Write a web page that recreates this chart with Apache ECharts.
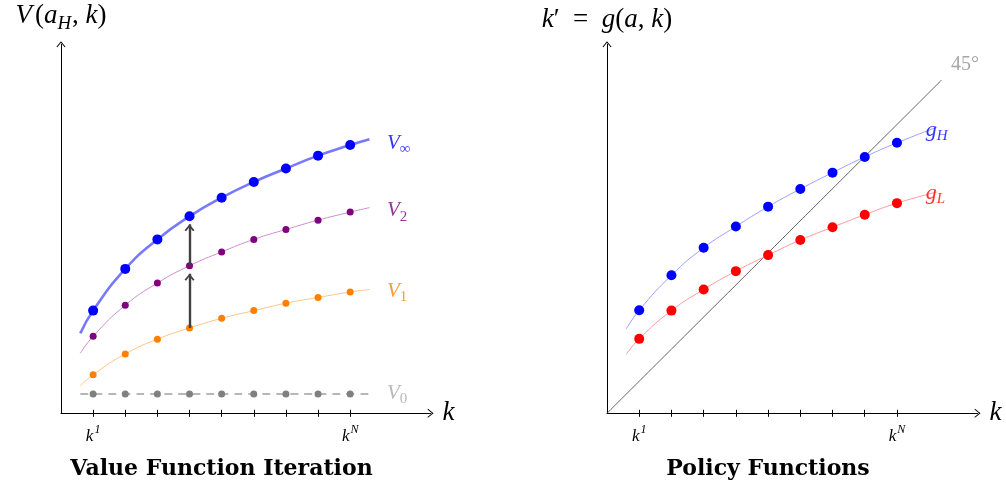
<!DOCTYPE html>
<html>
<head>
<meta charset="utf-8">
<script src="https://cdn.jsdelivr.net/npm/echarts@6/dist/echarts.min.js"></script>
<style>
  html, body { margin: 0; padding: 0; background: #fff; }
  #chart { width: 1006px; height: 486px; }
</style>
</head>
<body>
<div id="chart"></div>
<script>
// Capital grid k^1 ... k^N
const kGrid = [1, 2, 3, 4, 5, 6, 7, 8, 9];
const kLabelPos = [1, 9];
const kTickLabels = ['1', 'N'];
// Curves run slightly past the grid on both sides
const kStart = 0.6;
const kEndLeft = 9.6;
const kEndRight = 10.25;

// Value function iterates at the grid points, with curve end values
const vInf = [3.20, 4.50, 5.42, 6.14, 6.72, 7.21, 7.63, 8.03, 8.36];
const vInfEnds = [2.49, 8.54];
const v2 = [2.40, 3.37, 4.06, 4.60, 5.03, 5.42, 5.73, 6.02, 6.27];
const v2Ends = [1.87, 6.41];
const v1 = [1.20, 1.85, 2.31, 2.66, 2.96, 3.20, 3.43, 3.61, 3.78];
const v1Ends = [0.85, 3.86];
const v0 = [0.60, 0.60, 0.60, 0.60, 0.60, 0.60, 0.60, 0.60, 0.60];
const v0Ends = [0.60, 0.60];

// Policy functions for high and low productivity
const gH = [3.21, 4.30, 5.16, 5.82, 6.44, 6.99, 7.50, 7.99, 8.43];
const gHEnds = [2.63, 8.92];
const gL = [2.32, 3.20, 3.86, 4.43, 4.93, 5.40, 5.80, 6.19, 6.55];
const gLEnds = [1.84, 6.90];
// 45 degree line end
const diagEnd = 10.38;

// Grid point where the iteration arrows are drawn
const arrowIdx = 3;

const AXIS_MAX = 11.5;
const MATH = "'Liberation Serif', serif";
const BOLD = "'DejaVu Serif', serif";

const BLUE = '#0000ff', PURPLE = '#800080', ORANGE = '#ff8000', GRAY = '#808080', RED = '#ff0000';

function rich(color, size) {
  const s = Math.round(size * 0.7);
  return {
    i: { fontFamily: MATH, fontStyle: 'italic', fontSize: size, color: color },
    iv: { fontFamily: MATH, fontStyle: 'italic', fontSize: size, color: color, padding: [0, 3, 0, 0] },
    n: { fontFamily: MATH, fontSize: size, color: color },
    sub: { fontFamily: MATH, fontStyle: 'italic', fontSize: s, color: color, padding: [Math.round(size * 0.55), 1, 0, 0] },
    subn: { fontFamily: MATH, fontSize: s, color: color, padding: [Math.round(size * 0.55), 0, 0, 0] }
  };
}

function curve(vals, ends, kEnd) {
  return [[kStart, ends[0]]].concat(kGrid.map((k, i) => [k, vals[i]]), [[kEnd, ends[1]]]);
}
function points(vals) {
  return kGrid.map((k, i) => [k, vals[i]]);
}

const axisArrow = 'path://M0,5.6 L4.5,0 L9,5.6 L8.2,6.1 L4.5,1.5 L0.8,6.1 Z';
const iterArrow = 'path://M0,6 L5,0 L10,6 L8.5,7 L5,2.6 L1.5,7 Z';
const arrowGap = 0.25;

function xAxes(gridIndex) {
  return [
    {
      gridIndex: gridIndex, type: 'value', min: 0, max: AXIS_MAX, position: 'bottom',
      axisLine: { show: true, onZero: false, lineStyle: { color: '#000', width: 1 },
        symbol: ['none', axisArrow], symbolSize: [9, 6.1] },
      axisTick: { show: true, length: 3.5, customValues: kGrid, lineStyle: { color: '#000', width: 1 } },
      axisLabel: {
        show: true, customValues: kLabelPos, margin: 11,
        formatter: v => '{k|k}{s|' + kTickLabels[kLabelPos.indexOf(v)] + '}',
        rich: {
          k: { fontFamily: MATH, fontStyle: 'italic', fontSize: 17, color: '#000' },
          s: { fontFamily: MATH, fontStyle: 'italic', fontSize: 12, color: '#000', padding: [0, 0, 12, 1] }
        }
      },
      splitLine: { show: false },
      name: '{i|k}', nameLocation: 'end', nameGap: 12,
      nameTextStyle: { rich: rich('#000', 27) }
    },
    {
      gridIndex: gridIndex, type: 'value', min: 0, max: AXIS_MAX, position: 'bottom',
      axisLine: { show: false },
      axisTick: { show: true, inside: true, length: 3.5, customValues: kGrid, lineStyle: { color: '#000', width: 1 } },
      axisLabel: { show: false },
      splitLine: { show: false }
    }
  ];
}

function yAxis(gridIndex, name) {
  return {
    gridIndex: gridIndex, type: 'value', min: 0, max: AXIS_MAX,
    axisLine: { show: true, onZero: false, lineStyle: { color: '#000', width: 1 },
      symbol: ['none', axisArrow], symbolSize: [9, 6.1] },
    axisTick: { show: false }, axisLabel: { show: false }, splitLine: { show: false },
    name: name, nameLocation: 'end', nameGap: 11,
    nameTextStyle: { align: 'center', rich: rich('#000', 27) }
  };
}

function lineSeries(x, y, data, color, width, dash, z) {
  return {
    type: 'line', xAxisIndex: x, yAxisIndex: y, data: data, smooth: 0.5,
    showSymbol: false, symbol: 'none', silent: true, z: z || 2,
    lineStyle: { color: color, width: width, type: dash || 'solid' }
  };
}
function dotSeries(x, y, data, color, size) {
  return {
    type: 'scatter', xAxisIndex: x, yAxisIndex: y, data: data, symbol: 'circle',
    symbolSize: size, itemStyle: { color: color, opacity: 1 }, silent: true, z: 4
  };
}
function labelSeries(x, y, items) {
  return {
    type: 'scatter', xAxisIndex: x, yAxisIndex: y, symbolSize: 1, silent: true, z: 5,
    itemStyle: { color: 'rgba(0,0,0,0)' },
    data: items.map(it => ({
      value: it.value,
      label: {
        show: true, position: 'right', distance: it.distance, offset: it.offset,
        formatter: it.text, rich: rich(it.color, it.size)
      }
    }))
  };
}

const chart = echarts.init(document.getElementById('chart'), null, { renderer: 'canvas' });

const iterV1 = lineSeries(0, 0, curve(v1, v1Ends, kEndLeft), '#ffc58a', 1);
iterV1.markLine = {
  silent: true, animation: false,
  symbol: ['none', iterArrow], symbolSize: [10, 7], symbolOffset: [[0, 0], [0, 3.5]],
  lineStyle: { color: '#404040', width: 2.4, type: 'solid' },
  label: { show: false },
  data: [
    [{ coord: [kGrid[arrowIdx], v1[arrowIdx]] }, { coord: [kGrid[arrowIdx], v2[arrowIdx] - arrowGap] }],
    [{ coord: [kGrid[arrowIdx], v2[arrowIdx]] }, { coord: [kGrid[arrowIdx], vInf[arrowIdx] - arrowGap] }]
  ]
};

chart.setOption({
  animation: false,
  backgroundColor: '#fff',
  grid: [
    { left: 61, top: 44.3, width: 369.5, height: 369 },
    { left: 607, top: 44.3, width: 370.5, height: 369 }
  ],
  xAxis: xAxes(0).concat(xAxes(1)),
  yAxis: [
    yAxis(0, '{iv|V}{n|(}{i|a}{sub|H}{n|, }{i|k}{n|)}'),
    yAxis(1, '{i|k}{n|′  =  }{i|g}{n|(}{i|a}{n|, }{i|k}{n|)}')
  ],
  series: [
    // value function iteration
    lineSeries(0, 0, curve(v0, v0Ends, kEndLeft), '#a0a0a0', 1.5, [8, 6]),
    dotSeries(0, 0, points(v0), GRAY, 7),
    iterV1,
    dotSeries(0, 0, points(v1), ORANGE, 7),
    lineSeries(0, 0, curve(v2, v2Ends, kEndLeft), '#cc90cc', 1),
    dotSeries(0, 0, points(v2), PURPLE, 7),
    lineSeries(0, 0, curve(vInf, vInfEnds, kEndLeft), '#7878ff', 2.6),
    dotSeries(0, 0, points(vInf), BLUE, 10),
    labelSeries(0, 0, [
      { value: [kEndLeft, vInfEnds[1]], text: '{i|V}{subn|∞}', color: BLUE, size: 21, distance: 17, offset: [0, 4] },
      { value: [kEndLeft, v2Ends[1]], text: '{i|V}{subn|2}', color: PURPLE, size: 21, distance: 17, offset: [0, 3] },
      { value: [kEndLeft, v1Ends[1]], text: '{i|V}{subn|1}', color: ORANGE, size: 21, distance: 17, offset: [0, 2] },
      { value: [kEndLeft, v0Ends[1]], text: '{i|V}{subn|0}', color: '#a8a8a8', size: 21, distance: 17, offset: [0, -1] }
    ]),
    // policy functions
    lineSeries(2, 1, [[0, 0], [diagEnd, diagEnd]], '#555555', 0.9, 'solid', 1),
    lineSeries(2, 1, curve(gH, gHEnds, kEndRight), '#a0a0ff', 1),
    dotSeries(2, 1, points(gH), BLUE, 10),
    lineSeries(2, 1, curve(gL, gLEnds, kEndRight), '#ff9c9c', 1),
    dotSeries(2, 1, points(gL), RED, 10),
    labelSeries(2, 1, [
      { value: [diagEnd, diagEnd], text: '{n|45°}', color: '#909090', size: 20, distance: 9, offset: [0, -15] },
      { value: [kEndRight, gHEnds[1]], text: '{i|g}{sub|H}', color: BLUE, size: 22, distance: 0, offset: [-12, 3] },
      { value: [kEndRight, gLEnds[1]], text: '{i|g}{sub|L}', color: RED, size: 22, distance: 0, offset: [-12, 1] }
    ])
  ],
  graphic: [
    { type: 'text', x: 221.5, y: 469, silent: true,
      style: { text: 'Value Function Iteration', fontFamily: BOLD, fontWeight: 'bold', fontSize: 22,
        fill: '#000', align: 'center', verticalAlign: 'middle' } },
    { type: 'text', x: 768, y: 469, silent: true,
      style: { text: 'Policy Functions', fontFamily: BOLD, fontWeight: 'bold', fontSize: 22,
        fill: '#000', align: 'center', verticalAlign: 'middle' } }
  ]
});
</script>
</body>
</html>
